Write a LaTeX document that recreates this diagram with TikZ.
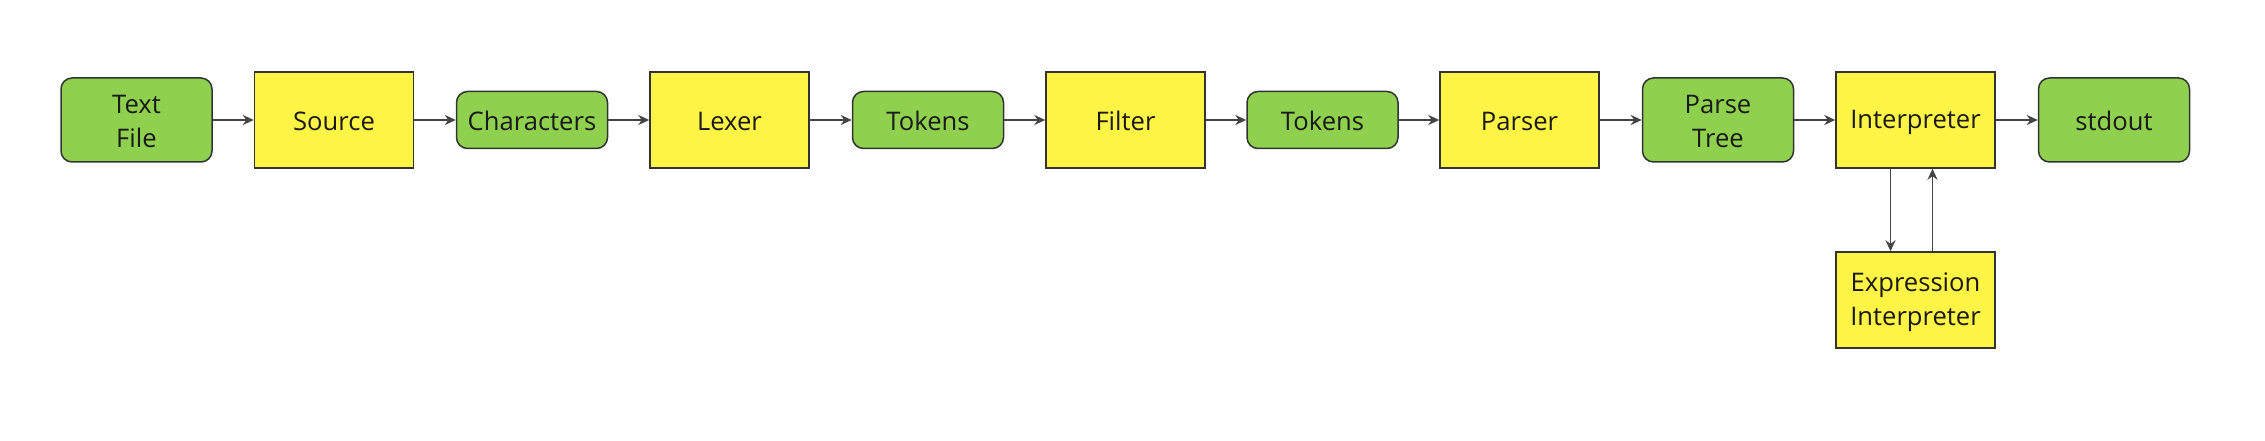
\documentclass[tikz,border=0pt]{standalone}
\usepackage{fontspec}
\setmainfont{Open Sans}
\usetikzlibrary{arrows.meta}
\definecolor{gfill}{HTML}{8FD14F}
\definecolor{yfill}{HTML}{FEF445}
\definecolor{edgec}{HTML}{333333}
\definecolor{arrc}{HTML}{444444}
\definecolor{txt}{HTML}{1A1A1A}
\newcommand\st{\rule[-2pt]{0pt}{26pt}}
\begin{document}
\begin{tikzpicture}[x=1pt,y=-1pt,
  every node/.style={font=\fontsize{25.6}{34}\selectfont, text=txt},
  data/.style={draw=edgec, fill=gfill, rounded corners=11pt, line width=1.5pt, minimum width=151pt, align=center, inner sep=0pt},
  proc/.style={draw=edgec, fill=yfill, line width=1.5pt, minimum width=159pt, minimum height=96pt, align=center, inner sep=0pt},
  tall/.style={minimum height=84pt},
  short/.style={minimum height=57pt},
  arr/.style={-{Stealth[length=11pt,width=10pt]}, draw=arrc, line width=1.8pt}]
\useasboundingbox[fill=white] (0,0) rectangle (2265,441);
\node[data,tall]  (tf)  at (136.5,120) {\st Text\\\st File};
\node[proc]       (src) at (334,120) {\st Source};
\node[data,short] (chr) at (532,120) {\st Characters};
\node[proc]       (lex) at (729.5,120) {\st Lexer};
\node[data,short] (tk1) at (928,120) {\st Tokens};
\node[proc]       (flt) at (1125.5,120) {\st Filter};
\node[data,short] (tk2) at (1322.5,120) {\st Tokens};
\node[proc]       (prs) at (1519.5,120) {\st Parser};
\node[data,tall]  (pt)  at (1718,120) {\st Parse\\\st Tree};
\node[proc]       (itp) at (1915.5,120) {\st Interpreter};
\node[data,tall]  (out) at (2114,120) {\st stdout};
\node[proc]       (exp) at (1915.5,300) {\st Expression\\\st Interpreter};
\draw[arr] (tf) -- (src);
\draw[arr] (src) -- (chr);
\draw[arr] (chr) -- (lex);
\draw[arr] (lex) -- (tk1);
\draw[arr] (tk1) -- (flt);
\draw[arr] (flt) -- (tk2);
\draw[arr] (tk2) -- (prs);
\draw[arr] (prs) -- (pt);
\draw[arr] (pt) -- (itp);
\draw[arr] (itp) -- (out);
\draw[arr] ([xshift=-25pt]itp.south) -- ([xshift=-25pt]exp.north);
\draw[arr] ([xshift=17pt]exp.north) -- ([xshift=17pt]itp.south);
\end{tikzpicture}
\end{document}
